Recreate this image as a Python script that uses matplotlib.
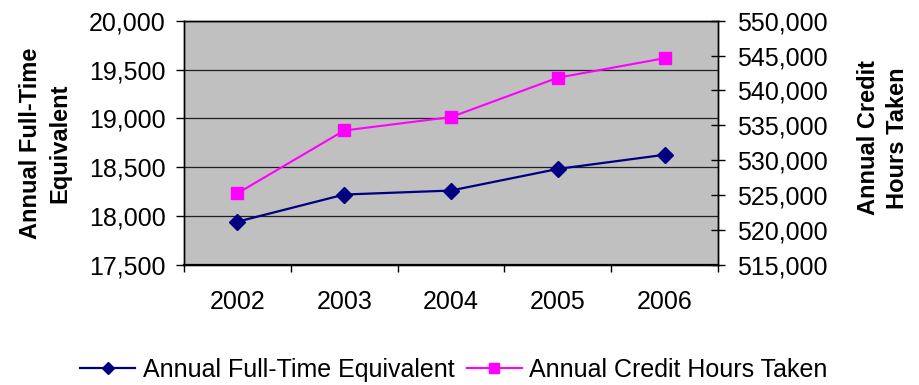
import matplotlib
matplotlib.use("Agg")
import matplotlib.pyplot as plt
from matplotlib.ticker import FuncFormatter, MultipleLocator, FixedLocator

plt.rcParams['font.family'] = ['Liberation Sans', 'DejaVu Sans']

years = ["2002", "2003", "2004", "2005", "2006"]
fte = [17943, 18221, 18262, 18483, 18628]
credit_hours = [525270, 534270, 536190, 541830, 544630]

fig = plt.figure(figsize=(9.2, 3.85), dpi=100)
ax = fig.add_axes([184/920, 1-265/385, (718-184)/920, (265-20.7)/385])
ax2 = ax.twinx()

ax.set_facecolor('#C0C0C0')
x = list(range(len(years)))

l1, = ax.plot(x, fte, color='#000080', lw=1.6, marker='D', markersize=8,
              label='Annual Full-Time Equivalent', zorder=3)
l2, = ax2.plot(x, credit_hours, color='#FF00FF', lw=1.5, marker='s', markersize=9,
               label='Annual Credit Hours Taken', zorder=3)

ax.set_xlim(-0.5, len(years) - 0.5)
ax.set_ylim(17500, 20000)
ax2.set_ylim(515000, 550000)

ax.yaxis.set_major_locator(MultipleLocator(500))
ax2.yaxis.set_major_locator(MultipleLocator(5000))
fmt = FuncFormatter(lambda v, p: f"{int(round(v)):,}")
ax.yaxis.set_major_formatter(fmt)
ax2.yaxis.set_major_formatter(fmt)

ax.set_xticks(x)
ax.set_xticklabels(years)
ax.xaxis.set_minor_locator(FixedLocator([i - 0.5 for i in range(len(years) + 1)]))
ax.tick_params(axis='x', which='major', length=0, pad=18, labelsize=18)
ax.tick_params(axis='x', which='minor', length=5, width=1, direction='out', color='black')
ax.tick_params(axis='y', length=6, width=1, direction='out', pad=7, labelsize=18)
ax2.tick_params(axis='y', length=10, width=1, direction='inout', pad=9, labelsize=18)

ax.grid(axis='y', color='#202020', lw=0.9)
ax.set_axisbelow(True)

for a in (ax, ax2):
    for s in a.spines.values():
        s.set_color('black')
        s.set_linewidth(1.0)
ax.spines['bottom'].set_linewidth(1.6)

ax.set_ylabel("Annual Full-Time\nEquivalent", fontsize=17, fontweight='bold',
              linespacing=1.35)
ax.yaxis.set_label_coords(-(184-71)/534, 0.5)

ax2.set_ylabel("Annual Credit\nHours Taken", fontsize=17, fontweight='bold',
               rotation=90, linespacing=1.35)
ax2.yaxis.set_label_coords(1 + (857-718)/534, 0.52)

fig.legend(handles=[l1, l2], loc='center', bbox_to_anchor=(454/920, 1-370/385),
           ncol=2, frameon=False, fontsize=18, handlelength=2.2,
           handletextpad=0.3, columnspacing=0.5, markerscale=0.8)

fig.savefig("out.png", dpi=100, facecolor='white')
